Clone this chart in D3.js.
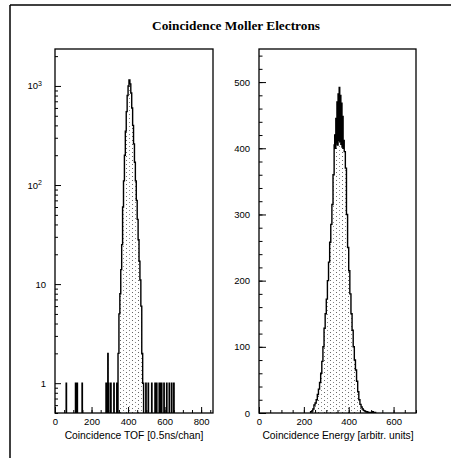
<!DOCTYPE html>
<html>
<head>
<meta charset="utf-8">
<script src="https://cdn.jsdelivr.net/npm/d3@7"></script>
<style>
  body { margin: 0; background: #fff; }
  svg { display: block; }
  text { font-family: "Liberation Sans", Arial, sans-serif; fill: #000; }
</style>
</head>
<body>
<div id="chart"></div>
<script>
const chartTitle = 'Coincidence Moller Electrons';
const tofTitle = 'Coincidence TOF [0.5ns/chan]';
const energyTitle = 'Coincidence Energy [arbitr. units]';

const tofXTicks = [0, 200, 400, 600, 800];
const tofYTicks = [1, 10, 100, 1000];
const energyXTicks = [0, 200, 400, 600];
const energyYTicks = [0, 100, 200, 300, 400, 500];

// TOF peak, 5-channel bins starting at channel 345
const tofPeakStart = 345, tofPeakBin = 5;
const tofPeakCounts = [2, 5, 8, 14, 25, 60, 110, 200, 350, 550, 800, 1000, 1150, 1050,
  850, 600, 400, 260, 170, 110, 70, 45, 28, 17, 11, 6, 2, 1];
// isolated channels outside the peak
const tofSingleChannels = [61, 112, 121, 148, 279, 282, 285, 293, 305, 322, 338,
  497, 510, 529, 547, 556, 570, 573, 577, 580, 583, 596, 611, 625, 638, 650];
const tofDoubleChannels = [289];
const tofSpikeBin = 2;

// energy spectrum: rising side, noisy top, falling side
const energyLoStart = 230, energyLoBin = 5;
const energyLoCounts = [2, 3, 6, 12, 15, 20, 28, 36, 46, 60, 78, 100, 128, 150, 172,
  200, 228, 258, 285, 315, 360];
const energyTopStart = 335, energyTopBin = 2.5;
const energyTopCounts = [405, 420, 400, 445, 408, 470, 405, 482, 412, 492, 410, 480,
  406, 468, 402, 448, 400, 412];
const energyHiStart = 380, energyHiBin = 5;
const energyHiCounts = [395, 370, 300, 250, 215, 180, 150, 125, 100, 80, 65, 48, 32,
  20, 13, 9, 6, 4, 3, 2, 2, 1, 1, 0, 1, 2, 1, 1];

const W = 451, H = 458;
const plotTop = 49, plotBottom = 413;

const svg = d3.select('#chart').append('svg')
  .attr('width', W)
  .attr('height', H);

// sparse stipple like the scanned fill
const defs = svg.append('defs');
const pat = defs.append('pattern')
  .attr('id', 'dots')
  .attr('width', 6)
  .attr('height', 4)
  .attr('patternUnits', 'userSpaceOnUse');
pat.append('rect').attr('x', 0).attr('y', 0).attr('width', 1).attr('height', 1).attr('fill', '#666');
pat.append('rect').attr('x', 3).attr('y', 2).attr('width', 1).attr('height', 1).attr('fill', '#888');

// page frame (top and left edges only)
svg.append('line').attr('x1', 10).attr('x2', W).attr('y1', 5).attr('y2', 5)
  .attr('stroke', '#000').attr('stroke-width', 1.5);
svg.append('line').attr('x1', 10).attr('x2', 10).attr('y1', 5).attr('y2', H)
  .attr('stroke', '#000').attr('stroke-width', 1.5);

svg.append('text')
  .attr('x', 236)
  .attr('y', 30)
  .attr('text-anchor', 'middle')
  .style('font-family', '"Liberation Serif", "Times New Roman", serif')
  .style('font-weight', 'bold')
  .style('font-size', '13.3px')
  .text(chartTitle);

function makeBins(start, width, counts) {
  return counts.map(function(v, i) {
    return { x0: start + i * width, x1: start + (i + 1) * width, v: v };
  });
}

// step outline of a histogram; zero bins drop to the baseline
function stepPath(bins, x, y, y0) {
  let d = '';
  let prev = null;
  bins.filter(function(b) { return b.v > 0; }).forEach(function(b) {
    if (prev === null || b.x0 > prev + 1e-6) {
      if (prev !== null) d += 'V' + y0;
      d += 'M' + x(b.x0) + ',' + y0;
    }
    d += 'V' + y(b.v) + 'H' + x(b.x1);
    prev = b.x1;
  });
  return d + 'V' + y0;
}

function drawHist(bins, x, y) {
  const d = stepPath(bins, x, y, plotBottom);
  svg.append('path')
    .attr('d', d + 'Z')
    .attr('fill', 'url(#dots)')
    .attr('stroke', 'none');
  svg.append('path')
    .attr('d', d)
    .attr('fill', 'none')
    .attr('stroke', '#000')
    .attr('stroke-width', 1.4);
}

function drawFrame(x0, x1) {
  svg.append('rect')
    .attr('x', x0).attr('y', plotTop)
    .attr('width', x1 - x0).attr('height', plotBottom - plotTop)
    .attr('fill', 'none')
    .attr('stroke', '#000')
    .attr('stroke-width', 1.3);
}

function styleAxis(g) {
  g.select('.domain').remove();
  g.selectAll('line').attr('stroke', '#000').attr('stroke-width', 1);
  g.selectAll('text').style('font-size', '9.5px').attr('fill', '#000');
}

// ---------- TOF (log) ----------
const xT = d3.scaleLinear().domain([0, 865]).range([55, 213]);
const yT = d3.scaleLog().domain([0.5, 2360]).range([plotBottom, plotTop]);

let tofBins = makeBins(tofPeakStart, tofPeakBin, tofPeakCounts)
  .concat(tofSingleChannels.map(function(c) { return { x0: c, x1: c + tofSpikeBin, v: 1 }; }))
  .concat(tofDoubleChannels.map(function(c) { return { x0: c, x1: c + tofSpikeBin, v: 2 }; }));
tofBins.sort(function(a, b) { return a.x0 - b.x0; });

drawHist(tofBins, xT, yT);
drawFrame(55, 213);

svg.append('g')
  .attr('transform', 'translate(0,' + plotBottom + ')')
  .call(d3.axisBottom(xT).tickValues(d3.range(0, 866, 50)).tickSize(-3).tickFormat(''))
  .call(styleAxis);
svg.append('g')
  .attr('transform', 'translate(0,' + plotBottom + ')')
  .call(d3.axisBottom(xT).tickValues(tofXTicks).tickSize(-6).tickPadding(5))
  .call(styleAxis);

const tofMinor = [];
[0.1, 1, 10, 100, 1000].forEach(function(dec) {
  for (let k = 2; k <= 9; k++) {
    const v = k * dec;
    if (v >= 0.5 && v <= 2360) tofMinor.push(v);
  }
});
svg.append('g')
  .attr('transform', 'translate(55,0)')
  .call(d3.axisLeft(yT).tickValues(tofMinor).tickSize(-3).tickFormat(''))
  .call(styleAxis);
svg.append('g')
  .attr('transform', 'translate(55,0)')
  .call(d3.axisLeft(yT).tickValues(tofYTicks).tickSize(-6).tickPadding(9).tickFormat(''))
  .call(styleAxis)
  .selectAll('.tick text')
  .each(function(d) {
    const t = d3.select(this);
    if (d < 100) {
      t.text(String(d));
    } else {
      t.attr('dx', '-4px').text('10');
      t.append('tspan')
        .attr('dy', '-0.55em')
        .style('font-size', '7px')
        .text(String(Math.round(Math.log10(d))));
    }
  });

svg.append('text')
  .attr('x', 134)
  .attr('y', 439)
  .attr('text-anchor', 'middle')
  .style('font-size', '10.3px')
  .text(tofTitle);

// ---------- Energy (linear) ----------
const xE = d3.scaleLinear().domain([0, 700]).range([259, 416]);
const yE = d3.scaleLinear().domain([0, 550]).range([plotBottom, plotTop]);

const energyBins = makeBins(energyLoStart, energyLoBin, energyLoCounts)
  .concat(makeBins(energyTopStart, energyTopBin, energyTopCounts))
  .concat(makeBins(energyHiStart, energyHiBin, energyHiCounts));

drawHist(energyBins, xE, yE);
drawFrame(259, 416);

svg.append('g')
  .attr('transform', 'translate(0,' + plotBottom + ')')
  .call(d3.axisBottom(xE).tickValues(d3.range(0, 701, 50)).tickSize(-3).tickFormat(''))
  .call(styleAxis);
svg.append('g')
  .attr('transform', 'translate(0,' + plotBottom + ')')
  .call(d3.axisBottom(xE).tickValues(energyXTicks).tickSize(-6).tickPadding(5))
  .call(styleAxis);

svg.append('g')
  .attr('transform', 'translate(259,0)')
  .call(d3.axisLeft(yE).tickValues(d3.range(0, 551, 20)).tickSize(-3.5).tickFormat(''))
  .call(styleAxis);
svg.append('g')
  .attr('transform', 'translate(259,0)')
  .call(d3.axisLeft(yE).tickValues(energyYTicks).tickSize(-7).tickPadding(9))
  .call(styleAxis);

svg.append('text')
  .attr('x', 338)
  .attr('y', 439)
  .attr('text-anchor', 'middle')
  .style('font-size', '10.3px')
  .text(energyTitle);
</script>
</body>
</html>
